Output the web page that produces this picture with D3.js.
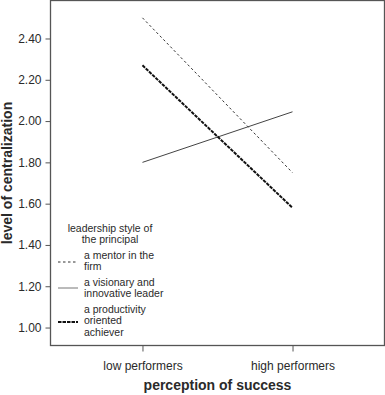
<!DOCTYPE html>
<html>
<head>
<meta charset="utf-8">
<script src="https://cdn.jsdelivr.net/npm/d3@7"></script>
<style>
  body { margin: 0; background: #fff; }
  text { font-family: "Liberation Sans", Arial, sans-serif; fill: #2a2a2a; }
</style>
</head>
<body>
<div id="chart"></div>
<script>
// categories on the x axis
var groups = ["low performers", "high performers"];

// mean level of centralization per leadership style
var mentor = [2.50, 1.75];
var visionary = [1.80, 2.045];
var productivity = [2.27, 1.58];

var yTicks = [1.00, 1.20, 1.40, 1.60, 1.80, 2.00, 2.20, 2.40];

var legendTitle = ["leadership style of", "the principal"];
var seriesNames = [
    ["a mentor in the", "firm"],
    ["a visionary and", "innovative leader"],
    ["a productivity", "oriented", "achiever"]
];

// set the dimensions and margins of the graph
var W = 385, H = 395;
var margin = { top: 0.5, right: 0.5, bottom: 49.5, left: 50.5 },
    width = W - margin.left - margin.right,
    height = H - margin.top - margin.bottom;

var svg = d3.select("#chart").append("svg")
    .attr("width", W)
    .attr("height", H);

var g = svg.append("g")
    .attr("transform", "translate(" + margin.left + "," + margin.top + ")");

var x = d3.scalePoint()
    .domain(groups)
    .range([0, width])
    .padding(0.613);

var y = d3.scaleLinear()
    .domain([0.913, 2.584])
    .range([height, 0]);

// frame
g.append("rect")
    .attr("width", width)
    .attr("height", height)
    .attr("fill", "none")
    .attr("stroke", "#555")
    .attr("stroke-width", 1.3);

// Y axis
var yAxis = g.append("g")
    .call(d3.axisLeft(y).tickValues(yTicks).tickFormat(d3.format(".2f")).tickSize(5).tickPadding(4));
yAxis.select(".domain").remove();
yAxis.selectAll("line").attr("stroke", "#555");
yAxis.selectAll("text")
    .style("font-family", "Liberation Sans, Arial, sans-serif")
    .style("font-size", "12px")
    .attr("fill", "#2a2a2a");

// X axis
var xAxis = g.append("g")
    .attr("transform", "translate(0," + height + ")")
    .call(d3.axisBottom(x).tickSize(6).tickPadding(10));
xAxis.select(".domain").remove();
xAxis.selectAll("line").attr("stroke", "#555");
xAxis.selectAll("text")
    .style("font-family", "Liberation Sans, Arial, sans-serif")
    .style("font-size", "12px")
    .attr("fill", "#2a2a2a");

// axis titles
svg.append("text")
    .attr("x", 217.5)
    .attr("y", 390)
    .attr("text-anchor", "middle")
    .style("font-size", "14px")
    .style("font-weight", "bold")
    .text("perception of success");

svg.append("text")
    .attr("transform", "translate(11.5," + (margin.top + height / 2) + ") rotate(-90)")
    .attr("text-anchor", "middle")
    .style("font-size", "14px")
    .style("font-weight", "bold")
    .text("level of centralization");

// lines
var styles = [
    { data: mentor, stroke: "#333", width: 1, dash: "2.5,2.5" },
    { data: visionary, stroke: "#444", width: 1, dash: null },
    { data: productivity, stroke: "#111", width: 2, dash: "3.5,1" }
];

var line = d3.line()
    .x(function (d, i) { return x(groups[i]); })
    .y(function (d) { return y(d); });

g.selectAll(".series")
    .data(styles)
    .enter()
    .append("path")
    .attr("class", "series")
    .attr("d", function (d) { return line(d.data); })
    .attr("fill", "none")
    .attr("stroke", function (d) { return d.stroke; })
    .attr("stroke-width", function (d) { return d.width; })
    .attr("stroke-dasharray", function (d) { return d.dash; });

// legend
var legend = svg.append("g");
legend.selectAll(".ltitle")
    .data(legendTitle)
    .enter()
    .append("text")
    .attr("x", 110)
    .attr("y", function (d, i) { return 232 + i * 10.5; })
    .attr("text-anchor", "middle")
    .style("font-size", "10.5px")
    .text(function (d) { return d; });

var itemTop = [259, 286, 313];
var sampleY = [262, 288, 322];
seriesNames.forEach(function (names, k) {
    legend.append("line")
        .attr("x1", 58).attr("x2", 78)
        .attr("y1", sampleY[k]).attr("y2", sampleY[k])
        .attr("stroke", k == 1 ? "#777" : styles[k].stroke)
        .attr("stroke-width", styles[k].width)
        .attr("stroke-dasharray", styles[k].dash);
    names.forEach(function (t, j) {
        legend.append("text")
            .attr("x", 84)
            .attr("y", itemTop[k] + j * 11.3)
            .style("font-size", "10.5px")
            .text(t);
    });
});
</script>
</body>
</html>
